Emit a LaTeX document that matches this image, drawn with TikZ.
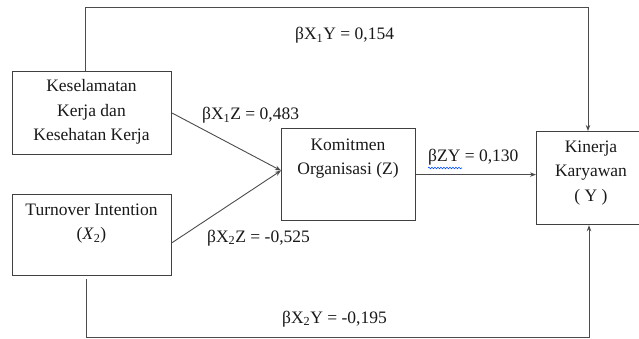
\documentclass[tikz,border=0pt]{standalone}
\usepackage{fontspec}
\setmainfont{Liberation Serif}
\usetikzlibrary{arrows.meta,decorations.pathmorphing}
\begin{document}
\begin{tikzpicture}[x=1pt,y=-1pt,
 box/.style={draw=black!75,line width=1.2pt,inner sep=0pt,anchor=north west},
 txt/.style={font=\fontsize{17.5}{24.5}\selectfont,align=center,inner sep=0pt,text=black!90},
 lbl/.style={font=\fontsize{17.5}{20}\selectfont,inner sep=0pt,anchor=base west,text=black!90},
 conn/.style={draw=black!70,line width=0.9pt},
 arr/.style={conn,-{Stealth[length=6pt,width=4.5pt]}}]
\useasboundingbox (0,0) rectangle (639,339);
\clip (0,0) rectangle (639,339);
\fill[white] (0,0) rectangle (639,339);
% boxes
\node[box,minimum width=159pt,minimum height=83pt] (b1) at (12,71) {};
\node[box,minimum width=159pt,minimum height=81pt] (b2) at (12,194) {};
\node[box,minimum width=134pt,minimum height=92pt] (z) at (281,128) {};
\node[box,minimum width=112pt,minimum height=93pt] (k) at (536,131) {};
% box texts
\node[txt] (t1) at (91.5,112) {Keselamatan\\Kerja dan\\Kesehatan Kerja};
\node[txt] (t2) at (91.5,223.5) {Turnover Intention\\(\textit{X}\textsubscript{2})};
\node[txt] (tz) at (348,158.5) {Komitmen\\Organisasi (Z)};
\node[txt] (tk) at (591,173) {Kinerja\\Karyawan\\( Y )};
% corner coordinates
\coordinate (tl) at (85,7);
\coordinate (tr) at (588,7);
\coordinate (bl) at (86,337);
\coordinate (br) at (589,337);
% connectors
\draw[arr] (b1.north -| tl) -- (tl) -- (tr) -- (tr |- k.north);
\draw[arr] ([yshift=-3pt]b2.south -| bl) -- (bl) -- (br) -- (br |- k.south);
\draw[arr] (b1.east) -- ([yshift=4pt]z.west);
\draw[arr] ([yshift=-7.5pt]b2.east) -- ([yshift=4pt]z.west);
\draw[arr] (z.east) -- (z.east -| k.west);
% labels
\node[lbl] (l1) at (202,120) {βX\textsubscript{1}Z = 0,483};
\node[lbl] (l2) at (207,242) {βX\textsubscript{2}Z = -0,525};
\node[lbl] (l3) at (428,161) {βZY = 0,130};
\node[lbl] (l4) at (295,40) {βX\textsubscript{1}Y = 0,154};
\node[lbl] (l5) at (282,323) {βX\textsubscript{2}Y = -0,195};
\coordinate (w1) at (428,168);
\coordinate (w2) at (462,168);
\draw[blue!70!cyan,line width=0.6pt,decorate,decoration={snake,amplitude=0.8pt,segment length=3pt}] (w1) -- (w2);
\end{tikzpicture}
\end{document}
